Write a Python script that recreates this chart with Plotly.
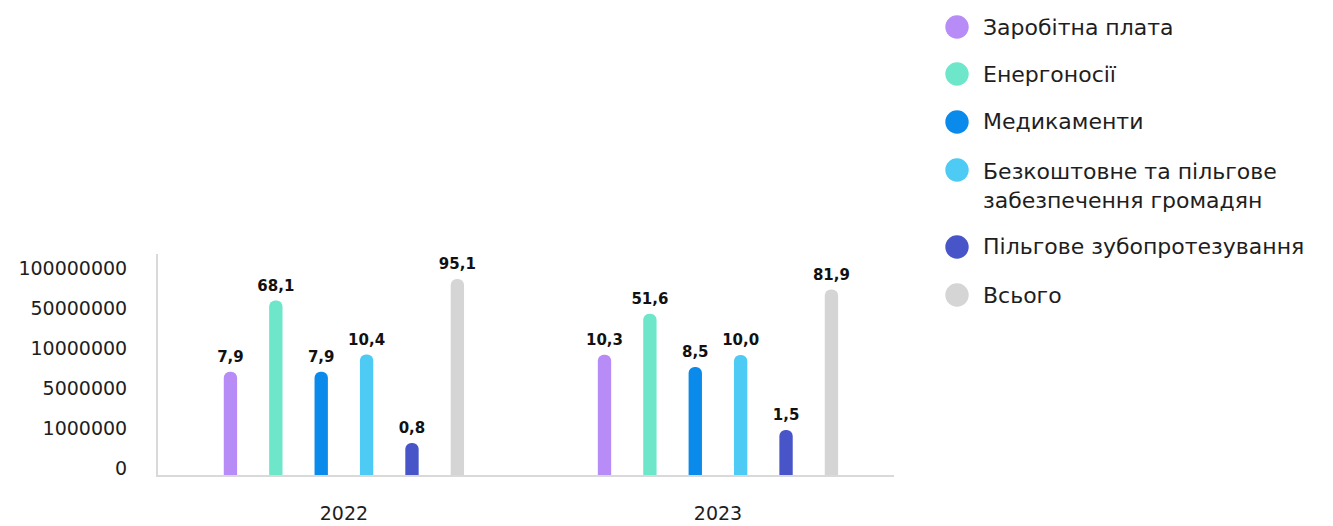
import numpy as np
import plotly.graph_objects as go

# ---- data ----
years = ["2022", "2023"]
series_names = [
    "Заробітна плата",
    "Енергоносії",
    "Медикаменти",
    "Безкоштовне та пільгове<br>забезпечення громадян",
    "Пільгове зубопротезування",
    "Всього",
]
values_2022 = [7.9e6, 68.1e6, 7.9e6, 10.4e6, 0.8e6, 95.1e6]
values_2023 = [10.3e6, 51.6e6, 8.5e6, 10.0e6, 1.5e6, 81.9e6]
tick_values = [0, 1e6, 5e6, 1e7, 5e7, 1e8]
tick_labels = ["0", "1000000", "5000000", "10000000", "50000000", "100000000"]

# ---- style ----
colors = ["#B78CF7", "#6EE6CA", "#0A8BEC", "#4ECBF4", "#4755C8", "#D5D5D5"]
FONT = "DejaVu Sans"
TEXT = "#1E1E1E"
BARGAP = 0.272

OFF = 8  # page body margin
W, H = 1333 - OFF, 526 - OFF
ML, MT = 158 - OFF, 254 - OFF
MR, MB = W - (894 - OFF), H - (475 - OFF)


def to_axis(v):
    # piecewise-linear scale: each tick interval gets equal spacing
    return np.interp(v, tick_values, np.arange(len(tick_values)))


def px(x):
    return (x - OFF - ML) / (W - ML - MR)


def py(y):
    return (H - MB - (y - OFF)) / (H - MT - MB)


fig = go.Figure()
for i, name in enumerate(series_names):
    vals = [values_2022[i], values_2023[i]]
    fig.add_trace(go.Bar(
        name=name, x=years, y=to_axis(vals),
        marker=dict(color=colors[i], cornerradius="50%", line=dict(width=0)),
        showlegend=False, hoverinfo="skip",
    ))
for i, name in enumerate(series_names):
    vals = [values_2022[i], values_2023[i]]
    labels = [f"{v / 1e6:.1f}".replace(".", ",") for v in vals]
    fig.add_trace(go.Scatter(
        name=name, x=years, y=to_axis(vals),
        mode="markers+text",
        marker=dict(size=8, opacity=0, color=colors[i]),
        text=labels, texttemplate="<b>%{text}</b>", textposition="top center",
        textfont=dict(family=FONT, size=15, color="#111111"),
        cliponaxis=False, showlegend=False, hoverinfo="skip",
    ))

# manual legend with round markers
legend_y = [27, 74, 122, 170, 247, 295]
text_y = [27, 74, 122, 186, 247, 295]
shapes = []
annotations = []
for i, name in enumerate(series_names):
    shapes.append(dict(
        type="circle", xref="paper", yref="paper",
        xsizemode="pixel", ysizemode="pixel",
        xanchor=px(957), yanchor=py(legend_y[i]),
        x0=-11.7, x1=11.7, y0=-11.7, y1=11.7,
        fillcolor=colors[i], line=dict(width=0),
    ))
    annotations.append(dict(
        xref="paper", yref="paper", x=px(981), y=py(text_y[i]),
        xanchor="left", yanchor="middle", align="left",
        text=name, showarrow=False,
        font=dict(family=FONT, size=22, color=TEXT),
    ))

fig.update_layout(
    width=W, height=H, autosize=False,
    margin=dict(l=ML, r=MR, t=MT, b=MB, pad=0, autoexpand=False),
    paper_bgcolor="white", plot_bgcolor="white",
    barmode="group", bargap=BARGAP, bargroupgap=0.706,
    scattermode="group", scattergap=BARGAP,
    font=dict(family=FONT, color=TEXT),
    shapes=shapes, annotations=annotations,
    showlegend=False,
)
fig.update_xaxes(
    type="category", range=[-0.497, 1.4706], automargin=False,
    showline=True, linecolor="#D9D9D9", linewidth=2,
    showgrid=False, zeroline=False, ticks="",
    tickfont=dict(family=FONT, size=19, color=TEXT),
    ticklabelstandoff=20,
)
fig.update_yaxes(
    range=[0, 5.525], automargin=False,
    tickmode="array", tickvals=to_axis(tick_values), ticktext=tick_labels,
    showline=True, linecolor="#D9D9D9", linewidth=2,
    showgrid=False, zeroline=False,
    ticks="outside", ticklen=25, tickcolor="rgba(0,0,0,0)",
    tickfont=dict(family=FONT, size=19, color=TEXT),
    ticklabelshift=-7,
)

fig.write_html("out.html")
